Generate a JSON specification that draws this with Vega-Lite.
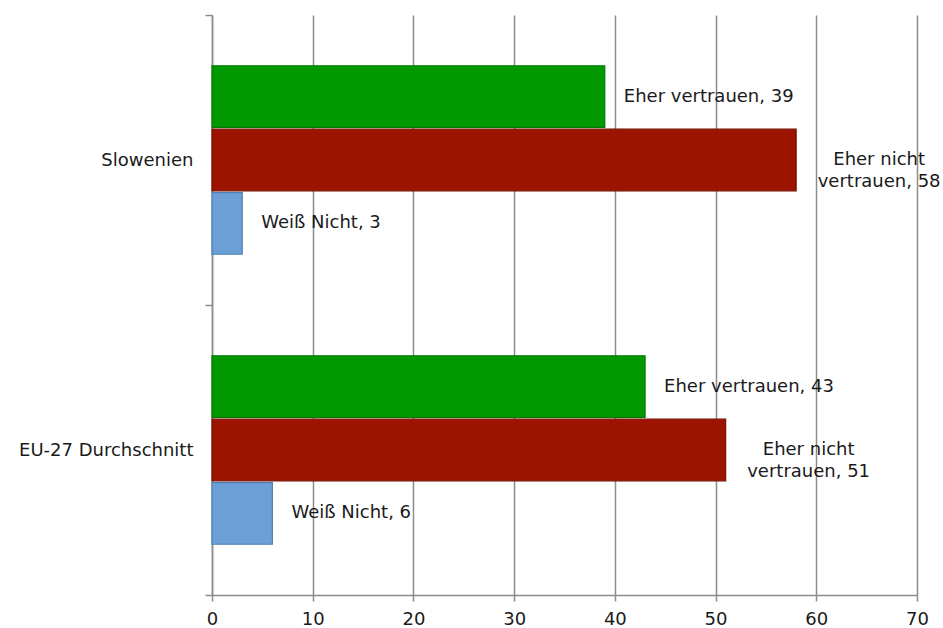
{
  "$schema": "https://vega.github.io/schema/vega-lite/v6.json",
  "autosize": "none",
  "width": 705,
  "height": 580,
  "padding": {"left": 212, "top": 15, "right": 26, "bottom": 33},
  "background": "white",
  "config": {
    "view": {"stroke": null},
    "font": "DejaVu Sans",
    "text": {"font": "DejaVu Sans"}
  },
  "data": {
    "values": [
      {"region": "Slowenien", "series": "Eher vertrauen", "value": 39, "label": "Eher vertrauen, 39"},
      {"region": "Slowenien", "series": "Eher nicht vertrauen", "value": 58, "label": "Eher nicht\nvertrauen, 58"},
      {"region": "Slowenien", "series": "Weiß Nicht", "value": 3, "label": "Weiß Nicht, 3"},
      {"region": "EU-27 Durchschnitt", "series": "Eher vertrauen", "value": 43, "label": "Eher vertrauen, 43"},
      {"region": "EU-27 Durchschnitt", "series": "Eher nicht vertrauen", "value": 51, "label": "Eher nicht\nvertrauen, 51"},
      {"region": "EU-27 Durchschnitt", "series": "Weiß Nicht", "value": 6, "label": "Weiß Nicht, 6"}
    ]
  },
  "encoding": {
    "y": {
      "field": "region",
      "type": "nominal",
      "sort": ["Slowenien", "EU-27 Durchschnitt"],
      "scale": {"paddingInner": 0, "paddingOuter": 0},
      "axis": {
        "title": null,
        "tickBand": "extent",
        "tickSize": 7,
        "tickColor": "#8c8c8c",
        "tickWidth": 1.5,
        "domainColor": "#8c8c8c",
        "domainWidth": 1.5,
        "labelPadding": 12,
        "labelFontSize": 18,
        "labelColor": "#1a1a1a",
        "labelFont": "DejaVu Sans",
        "grid": false
      }
    },
    "yOffset": {
      "field": "series",
      "type": "nominal",
      "sort": ["Eher vertrauen", "Eher nicht vertrauen", "Weiß Nicht"],
      "scale": {"paddingInner": 0.03, "paddingOuter": 0.8}
    },
    "x": {
      "field": "value",
      "type": "quantitative",
      "scale": {"domain": [0, 70], "nice": false},
      "axis": {
        "title": null,
        "values": [0, 10, 20, 30, 40, 50, 60, 70],
        "grid": true,
        "gridColor": "#8c8c8c",
        "gridWidth": 1.5,
        "domainColor": "#8c8c8c",
        "domainWidth": 1.5,
        "tickColor": "#8c8c8c",
        "tickWidth": 1.5,
        "tickSize": 6,
        "labelPadding": 9,
        "labelFlush": false,
        "labelFontSize": 18,
        "labelColor": "#1a1a1a",
        "labelFont": "DejaVu Sans"
      }
    }
  },
  "layer": [
    {
      "mark": {"type": "bar", "strokeWidth": 1.2},
      "encoding": {
        "color": {
          "field": "series",
          "type": "nominal",
          "scale": {
            "domain": ["Eher vertrauen", "Eher nicht vertrauen", "Weiß Nicht"],
            "range": ["#029802", "#9c1300", "#6b9fd6"]
          },
          "legend": null
        },
        "stroke": {
          "field": "series",
          "type": "nominal",
          "scale": {
            "domain": ["Eher vertrauen", "Eher nicht vertrauen", "Weiß Nicht"],
            "range": ["#017a01", "#7a0f00", "#4f7fb3"]
          },
          "legend": null
        }
      }
    },
    {
      "transform": [{"filter": "datum.series !== 'Eher nicht vertrauen'"}],
      "mark": {"type": "text", "align": "left", "baseline": "middle", "dx": 19, "fontSize": 18, "color": "#1a1a1a"},
      "encoding": {"text": {"field": "label"}}
    },
    {
      "transform": [{"filter": "datum.series === 'Eher nicht vertrauen'"}],
      "mark": {"type": "text", "align": "center", "baseline": "middle", "dx": 83, "fontSize": 18, "lineBreak": "\n", "lineHeight": 22, "color": "#1a1a1a"},
      "encoding": {"text": {"field": "label"}}
    }
  ]
}
